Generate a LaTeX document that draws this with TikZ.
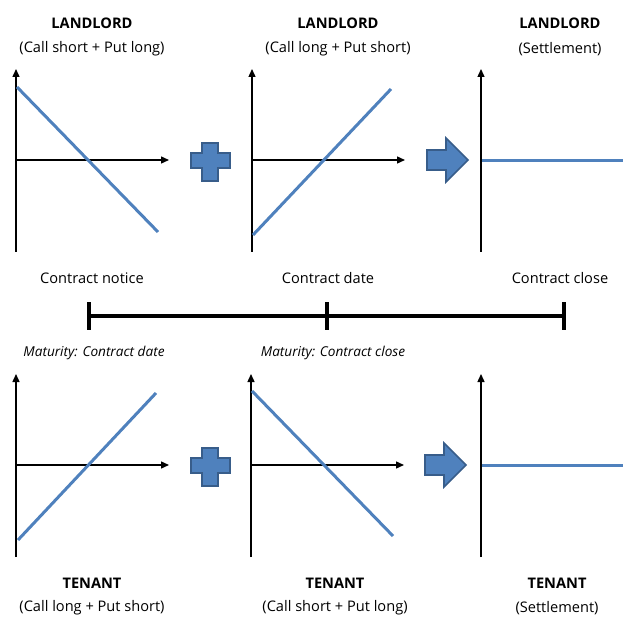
\documentclass[tikz,border=0pt]{standalone}
\usepackage{fontspec}
\setmainfont{Open Sans}
\usetikzlibrary{arrows.meta}
\definecolor{payoff}{RGB}{79,129,189}
\definecolor{payoffdark}{RGB}{56,93,138}
\tikzset{
	axis/.style={line width=1.4pt,-{Triangle[length=8pt,width=7pt]}},
	payline/.style={payoff,line width=3pt},
	signbox/.style={fill=payoff,draw=payoffdark,line width=1.6pt,line join=miter},
	who/.style={font=\fontsize{14.6}{15}\selectfont\bfseries},
	legs/.style={font=\fontsize{14.6}{15}\selectfont},
	mat/.style={font=\fontsize{13.6}{14}\selectfont\itshape},
	stamp/.style={font=\fontsize{14.6}{15}\selectfont},
	timeline/.style={line width=4pt}
}
\begin{document}
\begin{tikzpicture}[x=1pt,y=-1pt]
	\useasboundingbox (0,0) rectangle (623,617);
	% landlord
	\node[who] (ll1) at (92,23) {LANDLORD};
	\node[legs] (ll1l) at (92,49) {(Call short + Put long)};
	\node[who] (ll2) at (338,23) {LANDLORD};
	\node[legs] (ll2l) at (338,49) {(Call long + Put short)};
	\node[who] (ll3) at (560,23) {LANDLORD};
	\node[legs] (ll3l) at (560,49) {(Settlement)};
	\draw[axis] (16,252) -- (16,69);
	\draw[axis] (16,160) -- (169,160);
	\draw[payline] (17,87) -- (158,232);
	\draw[signbox] (202,143) -- (218,143) -- (218,153) -- (230,153) -- (230,168)
		-- (218,168) -- (218,181) -- (202,181) -- (202,168) -- (191,168)
		-- (191,153) -- (202,153) -- cycle; % signo mas
	\draw[axis] (252,252) -- (252,69);
	\draw[axis] (252,160) -- (405,160);
	\draw[payline] (253,235) -- (391,89);
	\draw[signbox] (427,150) -- (446,150) -- (446,138) -- (468,160) -- (446,182)
		-- (446,170) -- (427,170) -- cycle; % flecha
	\draw[axis] (481,252) -- (481,69);
	\draw[payline] (482,160.5) -- (623,160.5);
	% linea de tiempo
	\node[stamp] (notice) at (92,278) {Contract notice};
	\node[stamp] (date) at (328,278) {Contract date};
	\node[stamp] (close) at (560,278) {Contract close};
	\coordinate (tnotice) at (89,316);
	\coordinate (tdate) at (327,316);
	\coordinate (tclose) at (564,316);
	\draw[timeline] (tnotice) -- (tclose);
	\draw[timeline] (tnotice) ++(0,-14) -- ++(0,28);
	\draw[timeline] (tdate) ++(0,-14) -- ++(0,28);
	\draw[timeline] (tclose) ++(0,-14) -- ++(0,28);
	\node[mat] (mat1) at (94,353) {Maturity: Contract date};
	\node[mat] (mat2) at (333,353) {Maturity: Contract close};
	% tenant
	\draw[axis] (16,557) -- (16,374);
	\draw[axis] (16,465) -- (169,465);
	\draw[payline] (18,540) -- (156,393);
	\draw[signbox] (202,448) -- (218,448) -- (218,458) -- (230,458) -- (230,473)
		-- (218,473) -- (218,486) -- (202,486) -- (202,473) -- (191,473)
		-- (191,458) -- (202,458) -- cycle; % signo mas
	\draw[axis] (251,557) -- (251,374);
	\draw[axis] (251,465) -- (404,465);
	\draw[payline] (252,391) -- (393,536);
	\draw[signbox] (425,455) -- (444,455) -- (444,443) -- (466,465) -- (444,487)
		-- (444,475) -- (425,475) -- cycle; % flecha
	\draw[axis] (481,557) -- (481,374);
	\draw[payline] (482,465.5) -- (623,465.5);
	\node[who] (tn1) at (92,583) {TENANT};
	\node[legs] (tn1l) at (92,608) {(Call long + Put short)};
	\node[who] (tn2) at (335,583) {TENANT};
	\node[legs] (tn2l) at (335,608) {(Call short + Put long)};
	\node[who] (tn3) at (557,583) {TENANT};
	\node[legs] (tn3l) at (557,608) {(Settlement)};
\end{tikzpicture}
\end{document}
